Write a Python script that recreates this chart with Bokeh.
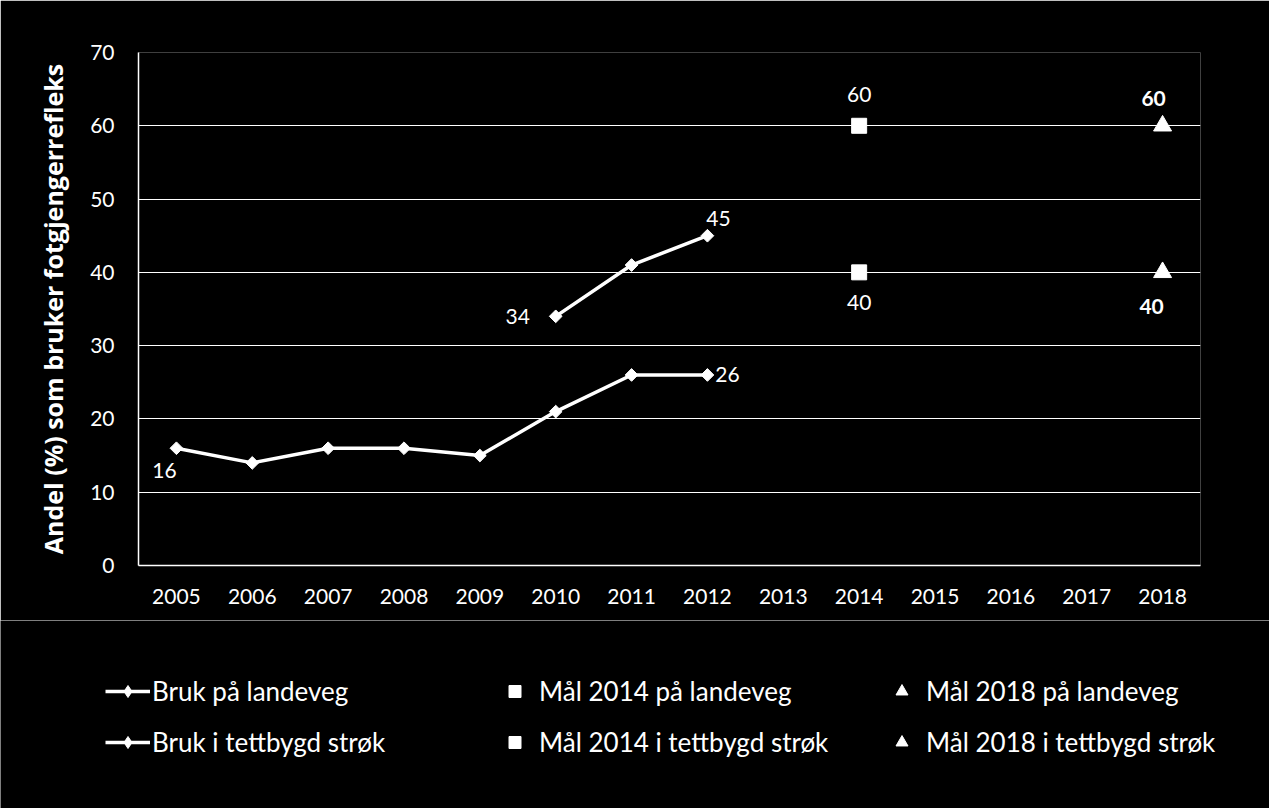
import math
from bokeh.plotting import figure
from bokeh.layouts import column, row
from bokeh.models import (Legend, LegendItem, ColumnDataSource, FixedTicker,
                          Range1d, FactorRange)
from bokeh.embed import file_html
from bokeh.resources import INLINE
from bokeh.core.properties import value

# ---------------- data ----------------
years = ["2005", "2006", "2007", "2008", "2009", "2010", "2011", "2012",
         "2013", "2014", "2015", "2016", "2017", "2018"]

landeveg_years = ["2010", "2011", "2012"]
landeveg_values = [34, 41, 45]

tettbygd_years = ["2005", "2006", "2007", "2008", "2009", "2010", "2011", "2012"]
tettbygd_values = [16, 14, 16, 16, 15, 21, 26, 26]

maal2014_year = ["2014"]
maal2014_landeveg = [60]
maal2014_tettbygd = [40]

maal2018_year = ["2018"]
maal2018_landeveg = [60]
maal2018_tettbygd = [40]

y_ticks = [0, 10, 20, 30, 40, 50, 60, 70]

legend_labels = ["Bruk på landeveg", "Mål 2014 på landeveg", "Mål 2018 på landeveg",
                 "Bruk i tettbygd strøk", "Mål 2014 i tettbygd strøk", "Mål 2018 i tettbygd strøk"]
y_title = "Andel (%) som bruker fotgjengerrefleks"

FONT = "Lato"
WHITE = "#ffffff"
MAIN_H = 620
LEG_H = 808 - MAIN_H

x_range = FactorRange(factors=years)

p = figure(x_range=x_range, y_range=Range1d(0, 70),
           width=1269, height=MAIN_H, output_backend="svg", toolbar_location=None,
           background_fill_color="black", border_fill_color="black",
           min_border_left=138, min_border_right=69, min_border_top=52,
           min_border_bottom=MAIN_H - 565, outline_line_color=None)

# axes
p.yaxis.ticker = FixedTicker(ticks=y_ticks)
for ax in (p.xaxis[0], p.yaxis[0]):
    ax.axis_line_color = WHITE
    ax.axis_line_width = 1.5
    ax.major_tick_line_color = None
    ax.minor_tick_line_color = None
    ax.major_label_text_color = WHITE
    ax.major_label_text_font = FONT
    ax.major_label_text_font_size = "21px"
p.yaxis.major_label_standoff = 18
p.xaxis.major_label_standoff = 17
p.yaxis.axis_label = y_title
p.yaxis.axis_label_text_color = WHITE
p.yaxis.axis_label_text_font = "Open Sans"
p.yaxis.axis_label_text_font_style = "bold"
p.yaxis.axis_label_text_font_size = "25px"
p.yaxis.axis_label_standoff = 17

p.xgrid.grid_line_color = None
p.ygrid.grid_line_color = WHITE
p.ygrid.grid_line_width = 1

line_style = dict(line_color=WHITE, line_width=3.5)
diamond_style = dict(marker="square", angle=math.pi / 4, size=9,
                     fill_color=WHITE, line_color=WHITE)
legend_diamond_style = dict(marker="diamond", size=9, fill_color=WHITE, line_color=WHITE)
square_style = dict(marker="square", size=15, fill_color=WHITE, line_color=WHITE)
tri_style = dict(marker="triangle", size=18, fill_color=WHITE, line_color=WHITE)


def draw_series(fig, dstyle):
    r = {}
    r["l_land"] = fig.line(landeveg_years, landeveg_values, **line_style)
    r["m_land"] = fig.scatter(landeveg_years, landeveg_values, **dstyle)
    r["l_tett"] = fig.line(tettbygd_years, tettbygd_values, **line_style)
    r["m_tett"] = fig.scatter(tettbygd_years, tettbygd_values, **dstyle)
    r["s14l"] = fig.scatter(maal2014_year, maal2014_landeveg, **square_style)
    r["s14t"] = fig.scatter(maal2014_year, maal2014_tettbygd, **square_style)
    r["s18l"] = fig.scatter(maal2018_year, maal2018_landeveg, **tri_style)
    r["s18t"] = fig.scatter(maal2018_year, maal2018_tettbygd, **tri_style)
    return r


draw_series(p, diamond_style)

# data labels
lab_src = ColumnDataSource(dict(
    x=[tettbygd_years[0], tettbygd_years[-1], landeveg_years[0], landeveg_years[-1],
       maal2014_year[0], maal2014_year[0]],
    y=[tettbygd_values[0], tettbygd_values[-1], landeveg_values[0], landeveg_values[-1],
       maal2014_landeveg[0], maal2014_tettbygd[0]],
    text=[str(tettbygd_values[0]), str(tettbygd_values[-1]), str(landeveg_values[0]),
          str(landeveg_values[-1]), str(maal2014_landeveg[0]), str(maal2014_tettbygd[0])],
    dx=[-12, 20, -38, 11, 0, 0],
    dy=[22, 0, 0, -17, -31, 30],
))
p.text(x="x", y="y", text="text", x_offset="dx", y_offset="dy", source=lab_src,
       text_color=WHITE, text_font=value(FONT), text_font_size="21px",
       text_align="center", text_baseline="middle")

bold_src = ColumnDataSource(dict(
    x=[maal2018_year[0], maal2018_year[0]],
    y=[maal2018_landeveg[0], maal2018_tettbygd[0]],
    text=[str(maal2018_landeveg[0]), str(maal2018_tettbygd[0])],
    dx=[-9, -11],
    dy=[-27, 34],
))
p.text(x="x", y="y", text="text", x_offset="dx", y_offset="dy", source=bold_src,
       text_color=WHITE, text_font=value(FONT), text_font_size="21px",
       text_font_style="bold", text_align="center", text_baseline="middle")

# ---------------- legend strip ----------------
# Same series drawn on a range that keeps them out of view; only the legend shows.
lg = figure(width=1269, height=LEG_H, output_backend="svg", toolbar_location=None,
            background_fill_color="black", border_fill_color="black",
            min_border=0, min_border_left=0, min_border_right=0,
            min_border_top=0, min_border_bottom=0, outline_line_color=None,
            x_axis_location=None, y_axis_location=None,
            x_range=x_range, y_range=Range1d(-20, -10))
lg.grid.visible = False
lr = draw_series(lg, legend_diamond_style)

items = [
    LegendItem(label=legend_labels[0], renderers=[lr["l_land"], lr["m_land"]]),
    LegendItem(label=legend_labels[1], renderers=[lr["s14l"]]),
    LegendItem(label=legend_labels[2], renderers=[lr["s18l"]]),
    LegendItem(label=legend_labels[3], renderers=[lr["l_tett"], lr["m_tett"]]),
    LegendItem(label=legend_labels[4], renderers=[lr["s14t"]]),
    LegendItem(label=legend_labels[5], renderers=[lr["s18t"]]),
]
legend = Legend(items=items, location=(105, 50), orientation="horizontal", ncols=3,
                background_fill_alpha=0, border_line_color=None, padding=0, margin=0,
                spacing=19, glyph_width=45, glyph_height=30, label_height=30,
                label_standoff=2, label_width=321,
                label_text_color=WHITE, label_text_font=FONT,
                label_text_font_size="26px")
lg.add_layout(legend)

layout = column(p, row(lg), spacing=0)
open("out.html", "w").write(file_html(layout, INLINE))
